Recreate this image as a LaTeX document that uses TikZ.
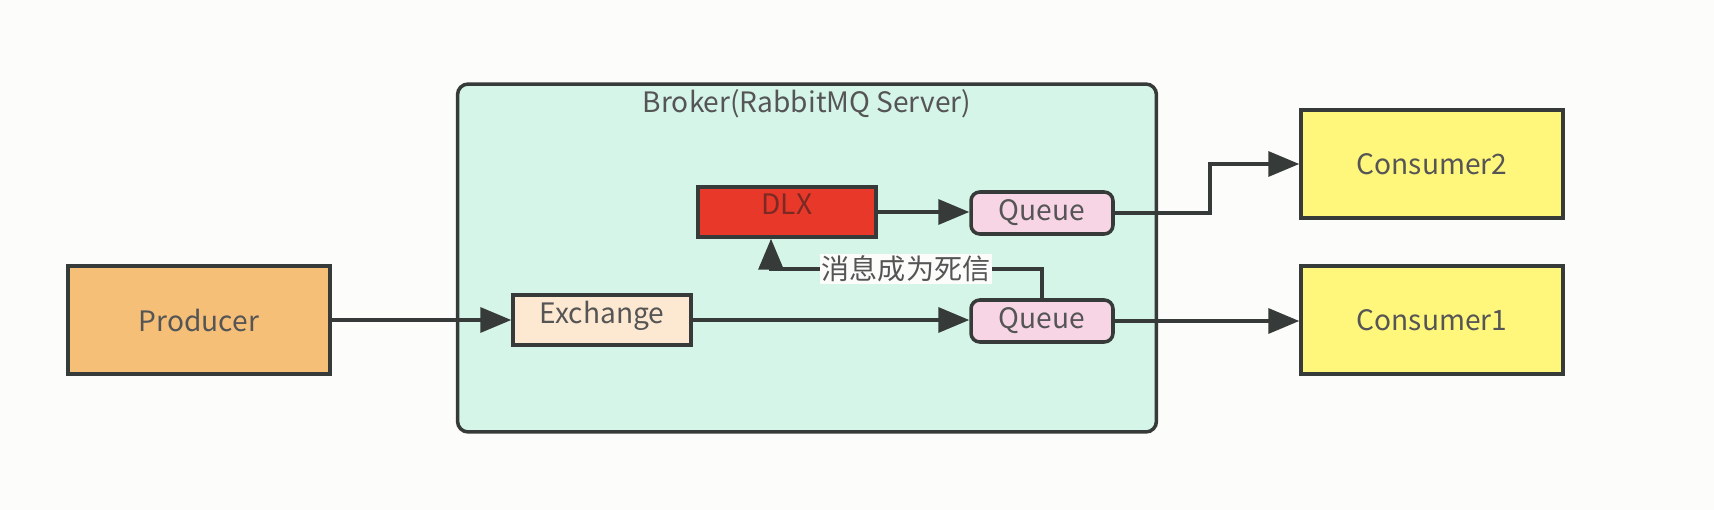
\documentclass[tikz,border=0pt]{standalone}
\usepackage{fontspec}
\setmainfont{Noto Sans CJK SC}
\usetikzlibrary{arrows.meta}
\definecolor{bgwhite}{HTML}{FCFCFA}
\definecolor{linegrey}{HTML}{363A38}
\definecolor{textgrey}{HTML}{555555}
\definecolor{brokerfill}{HTML}{D5F5E8}
\definecolor{producerfill}{HTML}{F5BF78}
\definecolor{exchangefill}{HTML}{FDE8D2}
\definecolor{dlxfill}{HTML}{E8382A}
\definecolor{dlxtext}{HTML}{7A2A22}
\definecolor{queuefill}{HTML}{F7D5E5}
\definecolor{consumerfill}{HTML}{FFF67C}
\begin{document}
\begin{tikzpicture}[x=0.02cm,y=-0.02cm,
    font=\fontsize{16pt}{19pt}\selectfont,text=textgrey,
    bigbox/.style={draw=linegrey,line width=2pt,minimum width=5.24cm,minimum height=2.16cm},
    smallbox/.style={draw=linegrey,line width=2pt,minimum width=3.56cm,minimum height=1cm,text depth=0.32cm},
    queuebox/.style={draw=linegrey,line width=2pt,rounded corners=5pt,fill=queuefill,minimum width=2.84cm,minimum height=0.84cm},
    link/.style={draw=linegrey,line width=2pt},
    arr/.style={link,-{Triangle[length=0.62cm,width=0.5cm]}}]
  \fill[bgwhite] (0,0) rectangle (1714,510);
  \useasboundingbox (0,0) rectangle (1714,510);
  \draw
    (807,258) node[draw=linegrey,line width=2pt,rounded corners=6pt,fill=brokerfill,
      minimum width=13.98cm,minimum height=6.96cm] (broker){}
    (807,104) node (brokertitle){Broker(RabbitMQ Server)}
    (199,320) node[bigbox,fill=producerfill] (producer){Producer}
    (602,320) node[smallbox,fill=exchangefill] (exchange){Exchange}
    (787,212) node[smallbox,fill=dlxfill,text=dlxtext] (dlx){DLX}
    (1042,213) node[queuebox] (qtop){Queue}
    (1042,321) node[queuebox] (qbot){Queue}
    (1432,164) node[bigbox,fill=consumerfill] (consumer2){Consumer2}
    (1432,320) node[bigbox,fill=consumerfill] (consumer1){Consumer1}
    (906,269) node[inner sep=1pt,fill=bgwhite] (deadmsg){消息成为死信};
  \begin{scope}[arr]
    \draw (producer) to (exchange);
    \draw (exchange.east) to (exchange.east -| qbot.west);
    \draw (dlx.east) to (dlx.east -| qtop.west);
    \draw (qtop.east) -- ++(95,0) |- (consumer2.west);
    \draw (qbot.east) to (qbot.east -| consumer1.west);
    \draw (deadmsg.west) -| ([xshift=-0.32cm]dlx.south);
  \end{scope}
  \draw[link] (qbot.north) |- (deadmsg.east);
\end{tikzpicture}
\end{document}
